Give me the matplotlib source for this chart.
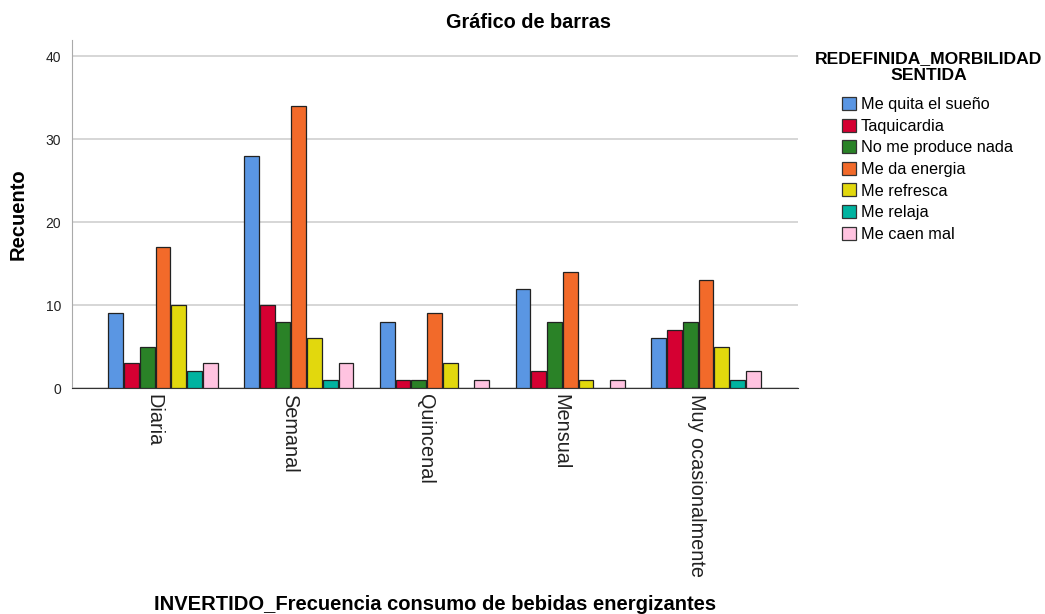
import numpy as np
import matplotlib
matplotlib.use('Agg')
import matplotlib.pyplot as plt
from matplotlib.patches import Patch

plt.rcParams['font.family'] = ['Liberation Sans', 'DejaVu Sans']

# frequency groups on the x axis
categories = ['Diaria', 'Semanal', 'Quincenal', 'Mensual', 'Muy ocasionalmente']

# one series per reported effect
series_names = ['Me quita el sueño', 'Taquicardia', 'No me produce nada',
                'Me da energia', 'Me refresca', 'Me relaja', 'Me caen mal']
quita_sueno = [9, 28, 8, 12, 6]
taquicardia = [3, 10, 1, 2, 7]
nada = [5, 8, 1, 8, 8]
energia = [17, 34, 9, 14, 13]
refresca = [10, 6, 3, 1, 5]
relaja = [2, 1, 0, 0, 1]
caen_mal = [3, 3, 1, 1, 2]
series_values = [quita_sueno, taquicardia, nada, energia, refresca, relaja, caen_mal]

colors = ['#5A96E3', '#D50032', '#2A8227', '#F26A2A', '#E2D80D', '#00B3A0', '#FFC3E0']

fig = plt.figure(figsize=(10.45, 6.14), dpi=100)
ax = fig.add_axes([0.069, 0.368, 0.695, 0.567])

x = np.arange(len(categories))
width = 0.116
n = len(series_values)
for i, (vals, col) in enumerate(zip(series_values, colors)):
    offs = (i - (n - 1) / 2) * width
    vals = np.array(vals)
    # zero counts leave the slot empty
    mask = vals > 0
    ax.bar(x[mask] + offs, vals[mask], width=width * 0.94, color=col,
           edgecolor='#222222', linewidth=0.9, zorder=3)

ax.set_xlim(-0.67, 4.68)
ax.set_ylim(0, 42)
ax.set_yticks([0, 10, 20, 30, 40])
ax.yaxis.grid(True, color='#d0d0d0', linewidth=1.2, zorder=0)
ax.set_xticks(x)
# labels hang just left of each group centre
ax.set_xticklabels(categories, rotation=-90, fontsize=14.3, va='top', ha='right',
                   color='#222222')
ax.tick_params(axis='y', labelsize=10, length=0, pad=8, labelcolor='#222222')
ax.tick_params(axis='x', length=0, pad=4)

for s in ['top', 'right']:
    ax.spines[s].set_visible(False)
ax.spines['left'].set_color('#aaaaaa')
ax.spines['bottom'].set_color('#333333')

ax.set_ylabel('Recuento', fontsize=14.5, fontweight='bold', labelpad=13)
fig.text(0.416, 0.016, 'INVERTIDO_Frecuencia consumo de bebidas energizantes',
         ha='center', va='center', fontsize=14.5, fontweight='bold')
fig.text(0.506, 0.963, 'Gráfico de barras', ha='center', va='center',
         fontsize=14.3, fontweight='bold')

# legend title sits above the swatches
fig.text(0.889, 0.891, 'REDEFINIDA_MORBILIDAD\nSENTIDA', ha='center', va='center',
         fontsize=12.6, fontweight='bold', linespacing=1.2)
handles = [Patch(facecolor=c, edgecolor='#333333', linewidth=0.9) for c in colors]
fig.legend(handles, series_names, loc='upper left', bbox_to_anchor=(0.806, 0.842),
           frameon=False, fontsize=11.7, handlelength=0.85, handleheight=0.85,
           handletextpad=0.3, labelspacing=0.4, borderpad=0, borderaxespad=0)

fig.savefig('out.png', dpi=100)
